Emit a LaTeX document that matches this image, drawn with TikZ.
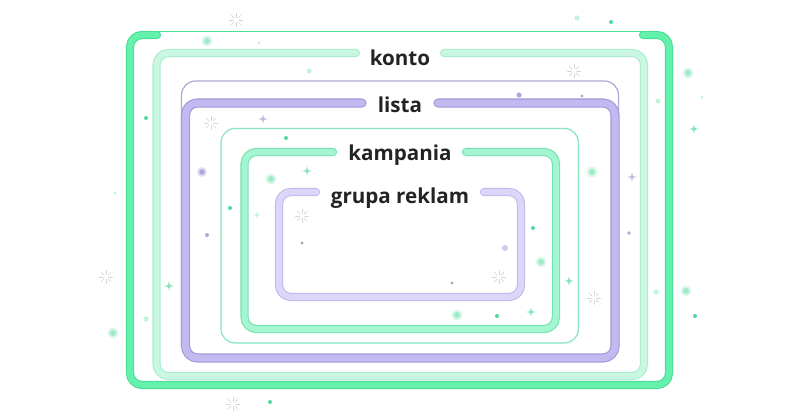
\documentclass[tikz,border=0pt]{standalone}
\usepackage{fontspec}
\setmainfont{Open Sans}
\begin{document}
\definecolor{outerfill}{HTML}{63F1AB}
\definecolor{outeredge}{HTML}{4ADE97}
\definecolor{kontofill}{HTML}{C9F7E2}
\definecolor{kontoedge}{HTML}{ACEDD0}
\definecolor{listafill}{HTML}{C3B9F0}
\definecolor{listaedge}{HTML}{A496DA}
\definecolor{listathin}{HTML}{B2A8D8}
\definecolor{kampthin}{HTML}{86E6BC}
\definecolor{kampfill}{HTML}{A6F5D2}
\definecolor{kampedge}{HTML}{74E2AF}
\definecolor{grupafill}{HTML}{DDD6F8}
\definecolor{grupaedge}{HTML}{C2B8EC}
\definecolor{labeltext}{HTML}{232323}
\definecolor{sparkg}{HTML}{4FDB9B}
\definecolor{sparkpale}{HTML}{C2F3DC}
\definecolor{sparkp}{HTML}{B0A5DF}
\definecolor{sparkgray}{HTML}{D2D2D8}
\tikzset{
  band/.style n args={3}{draw=#2, double=#1, line width=1.1pt, double distance=#3, line cap=round, line join=round},
  thinframe/.style={draw=#1, line width=1.2pt},
  levellabel/.style={font=\bfseries\fontsize{20.6}{24}\selectfont, text=labeltext, anchor=base, inner sep=0pt},
  sparkle/.pic={\fill[pic actions] (0,-5) .. controls (0.7,-0.7) .. (5,0) .. controls (0.7,0.7) .. (0,5) .. controls (-0.7,0.7) .. (-5,0) .. controls (-0.7,-0.7) .. (0,-5) -- cycle;},
  burst/.pic={\foreach \a in {0,45,...,315} \draw[sparkgray, line width=0.7pt, line cap=round] (\a:2.8) -- (\a:6.5);}
}
\begin{tikzpicture}[x=1pt, y=-1pt]
\useasboundingbox (0,0) rectangle (800,420);
\fill[white] (0,0) rectangle (800,420);

% scattered sparkles behind the frames
\foreach \p in {(236,20),(574,71),(211,123),(302,216),(499,277),(594,298),(106,277),(233,404)}
  \pic at \p {burst};
\foreach \p in {(694,129),(307,171),(169,286),(569,281),(531,312)}
  \pic[fill=sparkg!70] at \p {sparkle};
\pic[fill=sparkpale, scale=0.8] at (257,215) {sparkle};
\foreach \p in {(263,119),(632,177)}
  \pic[fill=sparkp!80] at \p {sparkle};
\foreach \p in {(146,118),(286,138),(230,208),(533,228),(497,316),(695,316),(611,22),(270,402)}
  \fill[sparkg] \p circle[radius=2];
\foreach \p in {(207,41),(688,73),(271,179),(113,333),(541,262),(592,172),(457,315),(686,291)} {
  \fill[sparkpale, opacity=0.6] \p circle[radius=5.5];
  \fill[sparkg!55] \p circle[radius=3];
}
\foreach \p in {(146,319),(656,292),(658,101),(309,71),(577,18)}
  \fill[sparkpale] \p circle[radius=2.6];
\foreach \p in {(702,97),(115,193),(259,43)}
  \fill[sparkpale] \p circle[radius=1.5];
\fill[sparkp] (519,95) circle[radius=2.6];
\fill[sparkp] (582,96) circle[radius=1.6];
\fill[sparkp!50, opacity=0.7] (202,172) circle[radius=5];
\fill[sparkp] (202,172) circle[radius=2.8];
\fill[sparkp] (207,235) circle[radius=2];
\fill[sparkp] (629,233) circle[radius=1.8];
\fill[sparkp!60] (505,248) circle[radius=3];
\foreach \p in {(452,283),(302,243),(440,374)}
  \fill[sparkgray!80!black] \p circle[radius=1.6];

% outer frame: thin top edge, heavy sides and bottom
\draw[outeredge, line width=1.2pt] (157,31.5) -- (643,31.5);
\draw[band={outerfill}{outeredge}{6pt}, rounded corners=12pt]
  (157,35) -- (130,35) -- (130,385) -- (669,385) -- (669,35) -- (643,35);

% konto
\node[levellabel] (konto) at (400,66) {konto};
\draw[band={kontofill}{kontoedge}{6pt}, rounded corners=12pt]
  (444,53) -- (644,53) -- (644,376) -- (156.5,376) -- (156.5,53) -- (356,53);

% lista
\draw[thinframe=listathin, rounded corners=14pt] (181.5,81) rectangle (618.5,358);
\node[levellabel] (lista) at (400,112) {lista};
\draw[band={listafill}{listaedge}{7pt}, rounded corners=12pt]
  (438,103) -- (615,103) -- (615,358) -- (185.5,358) -- (185.5,103) -- (362,103);

% kampania
\draw[thinframe=kampthin, rounded corners=14pt] (221,128.5) rectangle (578.5,343);
\node[levellabel] (kampania) at (400,160) {kampania};
\draw[band={kampfill}{kampedge}{6pt}, rounded corners=12pt]
  (466,152) -- (556,152) -- (556,329) -- (244.5,329) -- (244.5,152) -- (333,152);

% grupa reklam
\node[levellabel] (grupa) at (400,203) {grupa reklam};
\draw[band={grupafill}{grupaedge}{6pt}, rounded corners=12pt]
  (484,192) -- (521,192) -- (521,297) -- (279,297) -- (279,192) -- (316,192);
\end{tikzpicture}
\end{document}
